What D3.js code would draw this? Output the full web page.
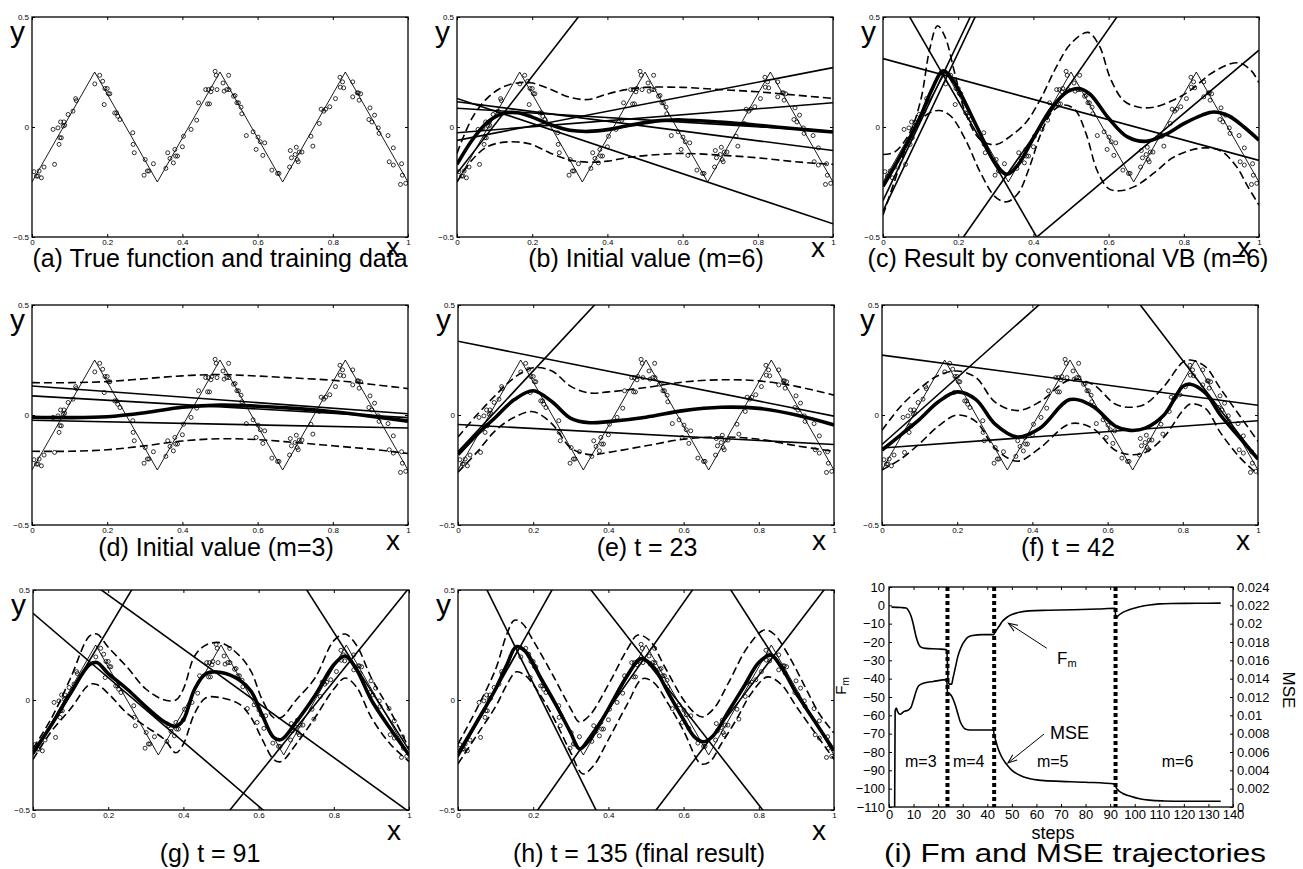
<!DOCTYPE html>
<html><head><meta charset="utf-8">
<script src="https://cdn.jsdelivr.net/npm/d3@7"></script>
<style>body{margin:0;background:#fff}svg{display:block}</style>
</head><body><svg id="c" width="1303" height="869"></svg>
<script>
// ---------- data ----------
const dataX = [0.005,0.012,0.016,0.019,0.025,0.032,0.056,0.060,0.069,0.072,0.074,0.078,0.076,0.083,0.085,0.087,0.096,0.109,0.116,0.118,0.167,0.180,0.188,0.192,0.194,0.200,0.203,0.207,0.220,0.225,0.228,0.234,0.268,0.269,0.272,0.298,0.301,0.307,0.311,0.323,0.356,0.361,0.367,0.376,0.380,0.382,0.387,0.400,0.403,0.423,0.438,0.443,0.462,0.467,0.469,0.472,0.476,0.478,0.487,0.490,0.492,0.508,0.511,0.518,0.523,0.524,0.536,0.540,0.545,0.549,0.556,0.558,0.570,0.588,0.596,0.601,0.607,0.614,0.619,0.638,0.653,0.657,0.685,0.687,0.690,0.700,0.703,0.705,0.708,0.711,0.718,0.742,0.747,0.764,0.769,0.776,0.781,0.792,0.807,0.819,0.820,0.826,0.829,0.853,0.853,0.865,0.868,0.870,0.874,0.896,0.899,0.904,0.911,0.921,0.923,0.947,0.961,0.950,0.961,0.983,0.985,0.980,0.994];
const dataY = [-0.203,-0.223,-0.223,-0.200,-0.231,-0.182,-0.011,-0.170,-0.004,-0.079,-0.049,-0.049,0.023,0.004,0.023,0.008,0.057,0.072,0.129,0.120,0.196,0.235,0.208,0.102,0.175,0.175,0.152,0.151,0.064,0.064,0.049,0.034,-0.026,-0.079,-0.117,-0.219,-0.148,-0.200,-0.200,-0.167,-0.188,-0.117,-0.143,-0.163,-0.102,-0.132,-0.132,-0.090,-0.042,-0.011,0.031,0.110,0.170,0.105,0.170,0.105,0.160,0.175,0.253,0.235,0.170,0.200,0.163,0.170,0.235,0.170,0.140,0.143,0.110,0.110,0.090,0.060,-0.039,-0.022,-0.102,-0.046,-0.067,-0.129,-0.072,-0.196,-0.211,-0.211,-0.182,-0.107,-0.140,-0.125,-0.092,-0.148,-0.158,-0.114,-0.114,-0.042,-0.087,0.016,0.081,0.072,0.081,0.092,0.129,0.226,0.181,0.205,0.178,0.205,0.137,0.155,0.155,0.122,0.151,0.034,0.087,0.023,0.054,-0.004,-0.029,-0.039,-0.095,-0.158,-0.173,-0.167,-0.219,-0.261,-0.256];
const trueX = [0, 0.1667, 0.3333, 0.5, 0.6667, 0.8333, 1];
const trueY = [-0.25, 0.25, -0.25, 0.25, -0.25, 0.25, -0.25];

const xTicks = [0, 0.2, 0.4, 0.6, 0.8, 1];
const xTickLabels = ['0', '0.2', '0.4', '0.6', '0.8', '1'];
const yTicks = [-0.5, 0, 0.5];
const yTickLabels = ['\u22120.5', '0', '0.5'];

// component lines: [y at x=0, y at x=1]
const linesB = [[-0.21,1.99],[0.13,-0.44],[0.115,-0.107],[0.085,-0.02],[-0.026,0.11],[-0.061,0.27]];
const meanB = [[0,-0.17],[0.04,-0.06],[0.08,0.02],[0.12,0.06],[0.16,0.065],[0.2,0.045],[0.25,0.01],[0.3,-0.015],[0.35,-0.02],[0.4,-0.012],[0.45,0.005],[0.5,0.02],[0.55,0.03],[0.6,0.032],[0.7,0.022],[0.8,0.008],[0.9,-0.008],[1,-0.023]];
const upperB = [[0,-0.12],[0.04,0.04],[0.08,0.13],[0.12,0.18],[0.16,0.2],[0.2,0.2],[0.25,0.17],[0.3,0.135],[0.35,0.125],[0.4,0.15],[0.45,0.17],[0.5,0.18],[0.6,0.18],[0.7,0.17],[0.8,0.16],[0.9,0.145],[1,0.13]];
const lowerB = [[0,-0.25],[0.04,-0.15],[0.08,-0.09],[0.12,-0.07],[0.16,-0.068],[0.2,-0.08],[0.25,-0.12],[0.3,-0.15],[0.35,-0.16],[0.4,-0.155],[0.45,-0.14],[0.5,-0.13],[0.6,-0.12],[0.7,-0.128],[0.8,-0.14],[0.9,-0.158],[1,-0.17]];

const linesC = [[-0.335,3.265],[-0.382,3.218],[0.71,-2.25],[0.311,-0.152],[-1.024,1.426],[-1.088,0.349]];
const meanC = [[0,-0.27],[0.05,-0.12],[0.1,0.05],[0.13,0.17],[0.16,0.255],[0.19,0.2],[0.25,0.0],[0.3,-0.17],[0.33,-0.215],[0.36,-0.17],[0.4,-0.05],[0.45,0.09],[0.49,0.16],[0.52,0.175],[0.55,0.15],[0.6,0.04],[0.65,-0.045],[0.7,-0.065],[0.75,-0.035],[0.8,0.015],[0.85,0.055],[0.88,0.068],[0.92,0.05],[0.96,0.0],[1,-0.06]];
const upperC = [[0,-0.125],[0.03,-0.115],[0.07,-0.03],[0.1,0.12],[0.125,0.36],[0.145,0.46],[0.165,0.41],[0.19,0.25],[0.22,0.06],[0.26,-0.06],[0.3,-0.08],[0.34,-0.04],[0.38,0.02],[0.42,0.13],[0.46,0.27],[0.5,0.38],[0.545,0.43],[0.575,0.37],[0.605,0.22],[0.64,0.12],[0.68,0.09],[0.72,0.09],[0.77,0.12],[0.82,0.17],[0.87,0.24],[0.92,0.285],[0.95,0.29],[0.98,0.255],[1,0.2]];
const lowerC = [[0,-0.4],[0.03,-0.25],[0.06,-0.1],[0.09,0.01],[0.12,0.06],[0.15,0.075],[0.18,0.05],[0.22,-0.06],[0.26,-0.21],[0.3,-0.32],[0.33,-0.34],[0.36,-0.3],[0.39,-0.18],[0.42,-0.03],[0.45,0.07],[0.48,0.1],[0.51,0.08],[0.54,-0.03],[0.57,-0.2],[0.6,-0.28],[0.63,-0.29],[0.67,-0.27],[0.72,-0.21],[0.77,-0.14],[0.82,-0.105],[0.86,-0.095],[0.9,-0.11],[0.94,-0.18],[0.97,-0.27],[1,-0.355]];

const linesD = [[0.132,0.006],[0.087,-0.012],[-0.024,-0.059]];
const meanD = [[0,-0.01],[0.1,-0.012],[0.2,-0.008],[0.3,0.01],[0.4,0.035],[0.5,0.045],[0.6,0.04],[0.7,0.03],[0.8,0.015],[0.9,-0.005],[1,-0.028]];
const upperD = [[0,0.147],[0.1,0.147],[0.2,0.152],[0.3,0.165],[0.4,0.178],[0.5,0.184],[0.6,0.177],[0.7,0.168],[0.8,0.158],[0.9,0.14],[1,0.12]];
const lowerD = [[0,-0.165],[0.1,-0.165],[0.2,-0.158],[0.3,-0.14],[0.4,-0.118],[0.5,-0.108],[0.6,-0.112],[0.7,-0.125],[0.8,-0.14],[0.9,-0.155],[1,-0.175]];

const linesE = [[-0.167,1.67],[0.335,-0.005],[-0.043,-0.134]];
const meanE = [[0,-0.18],[0.05,-0.09],[0.1,-0.01],[0.15,0.07],[0.2,0.11],[0.25,0.06],[0.3,-0.015],[0.35,-0.035],[0.4,-0.03],[0.5,-0.01],[0.6,0.02],[0.7,0.035],[0.8,0.03],[0.9,0.0],[1,-0.045]];
const upperE = [[0,-0.1],[0.05,0.0],[0.1,0.09],[0.15,0.17],[0.2,0.215],[0.25,0.2],[0.3,0.13],[0.35,0.1],[0.4,0.105],[0.5,0.125],[0.6,0.15],[0.7,0.16],[0.8,0.155],[0.9,0.13],[1,0.09]];
const lowerE = [[0,-0.26],[0.05,-0.17],[0.1,-0.07],[0.15,-0.01],[0.2,0.015],[0.25,-0.04],[0.3,-0.15],[0.35,-0.18],[0.4,-0.17],[0.5,-0.14],[0.6,-0.11],[0.7,-0.1],[0.8,-0.11],[0.9,-0.14],[1,-0.165]];

const linesF = [[-0.134,1.386],[2.036,-0.2],[0.272,0.044],[-0.15,-0.026]];
const meanF = [[0,-0.16],[0.05,-0.09],[0.1,-0.02],[0.15,0.06],[0.2,0.105],[0.25,0.07],[0.3,-0.04],[0.36,-0.1],[0.42,-0.06],[0.5,0.07],[0.56,0.04],[0.62,-0.05],[0.66,-0.07],[0.7,-0.06],[0.75,0.0],[0.8,0.13],[0.82,0.14],[0.86,0.1],[0.9,0.0],[0.95,-0.1],[1,-0.2]];
const upperF = [[0,-0.07],[0.05,0.04],[0.1,0.12],[0.15,0.18],[0.2,0.2],[0.25,0.17],[0.3,0.06],[0.36,0.02],[0.42,0.06],[0.5,0.16],[0.56,0.14],[0.62,0.05],[0.66,0.035],[0.7,0.05],[0.75,0.13],[0.8,0.24],[0.82,0.25],[0.86,0.22],[0.9,0.12],[0.95,0.0],[1,-0.12]];
const lowerF = [[0,-0.25],[0.05,-0.2],[0.1,-0.13],[0.15,-0.05],[0.2,0.0],[0.25,-0.03],[0.3,-0.15],[0.36,-0.21],[0.42,-0.15],[0.5,-0.04],[0.56,-0.06],[0.62,-0.16],[0.66,-0.18],[0.7,-0.17],[0.75,-0.1],[0.8,0.02],[0.82,0.05],[0.86,0.03],[0.9,-0.08],[0.95,-0.19],[1,-0.27]];

const linesG = [[-0.25,2.61],[0.724,-0.508],[0.394,-1.067],[2.446,-0.227],[-1.61,0.509]];
const meanG = [[0,-0.24],[0.05,-0.11],[0.1,0.03],[0.15,0.16],[0.17,0.17],[0.2,0.12],[0.25,0.05],[0.3,-0.03],[0.35,-0.1],[0.38,-0.12],[0.4,-0.09],[0.43,0.05],[0.46,0.12],[0.5,0.125],[0.55,0.09],[0.58,0.04],[0.61,-0.07],[0.64,-0.17],[0.66,-0.18],[0.7,-0.1],[0.75,0.02],[0.8,0.16],[0.83,0.2],[0.86,0.14],[0.9,0.0],[0.95,-0.13],[1,-0.25]];
const upperG = [[0,-0.22],[0.05,-0.08],[0.1,0.1],[0.15,0.29],[0.17,0.3],[0.2,0.24],[0.25,0.15],[0.3,0.05],[0.35,0.0],[0.38,0.0],[0.4,0.05],[0.43,0.2],[0.46,0.25],[0.5,0.26],[0.55,0.2],[0.58,0.13],[0.61,0.0],[0.64,-0.08],[0.66,-0.08],[0.7,0.0],[0.75,0.1],[0.8,0.27],[0.83,0.3],[0.86,0.25],[0.9,0.1],[0.95,-0.05],[1,-0.22]];
const lowerG = [[0,-0.27],[0.05,-0.14],[0.1,-0.04],[0.15,0.07],[0.17,0.07],[0.2,0.03],[0.25,-0.06],[0.3,-0.12],[0.35,-0.18],[0.38,-0.24],[0.4,-0.2],[0.43,-0.06],[0.46,0.01],[0.5,0.01],[0.55,-0.02],[0.58,-0.08],[0.61,-0.18],[0.64,-0.27],[0.66,-0.28],[0.7,-0.2],[0.75,-0.08],[0.8,0.05],[0.83,0.1],[0.86,0.06],[0.9,-0.08],[0.95,-0.2],[1,-0.28]];

const linesH = [[0.766,-2.684],[-0.26,2.78],[-1.015,1.415],[1.275,-0.915],[-1.68,0.56],[2.43,-0.23]];
const meanH = [[0,-0.245],[0.05,-0.1],[0.1,0.05],[0.13,0.16],[0.155,0.242],[0.18,0.22],[0.22,0.1],[0.26,-0.02],[0.3,-0.15],[0.323,-0.222],[0.35,-0.18],[0.4,-0.04],[0.45,0.11],[0.487,0.188],[0.52,0.15],[0.56,0.03],[0.6,-0.09],[0.63,-0.17],[0.655,-0.19],[0.68,-0.16],[0.72,-0.05],[0.76,0.06],[0.8,0.17],[0.832,0.204],[0.86,0.15],[0.9,0.03],[0.95,-0.1],[1,-0.23]];
const upperH = [[0,-0.2],[0.05,-0.04],[0.1,0.14],[0.13,0.3],[0.15,0.363],[0.17,0.35],[0.2,0.27],[0.25,0.12],[0.3,-0.04],[0.323,-0.1],[0.35,-0.07],[0.4,0.07],[0.45,0.23],[0.478,0.295],[0.51,0.27],[0.55,0.15],[0.6,0.0],[0.63,-0.06],[0.65,-0.077],[0.68,-0.04],[0.72,0.08],[0.77,0.24],[0.814,0.318],[0.84,0.3],[0.88,0.2],[0.92,0.07],[0.96,-0.06],[1,-0.15]];
const lowerH = [[0,-0.29],[0.05,-0.16],[0.1,-0.03],[0.13,0.07],[0.155,0.128],[0.18,0.11],[0.22,0.02],[0.26,-0.1],[0.3,-0.24],[0.332,-0.336],[0.36,-0.3],[0.4,-0.18],[0.45,-0.02],[0.491,0.097],[0.52,0.08],[0.56,-0.02],[0.6,-0.14],[0.646,-0.29],[0.67,-0.28],[0.7,-0.2],[0.74,-0.09],[0.78,0.03],[0.823,0.105],[0.86,0.07],[0.9,-0.03],[0.95,-0.15],[1,-0.27]];

// panel (i)
const stepTicks = [0,10,20,30,40,50,60,70,80,90,100,110,120,130,140];
const stepTickLabels = ['0','10','20','30','40','50','60','70','80','90','100','110','120','130','140'];
const fmTicks = [10,0,-10,-20,-30,-40,-50,-60,-70,-80,-90,-100,-110];
const fmTickLabels = ['10','0','\u221210','\u221220','\u221230','\u221240','\u221250','\u221260','\u221270','\u221280','\u221290','\u2212100','\u2212110'];
const mseTicks = [0,0.002,0.004,0.006,0.008,0.01,0.012,0.014,0.016,0.018,0.02,0.022,0.024];
const mseTickLabels = ['0','0.002','0.004','0.006','0.008','0.01','0.012','0.014','0.016','0.018','0.02','0.022','0.024'];
const fmSeries = [[1,-1],[5,-1.2],[7,-1.5],[8,-3],[9,-6],[10,-11],[11,-17],[12,-21],[13,-22.8],[15,-23.5],[20,-23.8],[23.5,-24.2],[23.8,-32],[24,-40],[24.5,-43],[25.5,-43],[26,-40],[27,-34],[28,-28],[29,-24],[30,-21],[31,-19],[32,-17.5],[34,-16.5],[38,-16],[42.5,-16],[43,-15],[44,-13],[45,-11],[46,-9],[48,-6.5],[50,-5],[53,-3.8],[57,-3],[65,-2.7],[75,-2.4],[85,-2],[92,-1.6],[92.3,-7],[93,-6],[95,-4],[98,-2.3],[102,-0.8],[106,0.2],[110,0.8],[115,1.0],[125,1.1],[135,1.2]];
const mseSeries = [[2.3,0],[2.5,0.0105],[3,0.0108],[3.5,0.0104],[4.5,0.0101],[6,0.0104],[8,0.0106],[9,0.0109],[10,0.0117],[11,0.0126],[12,0.0132],[14,0.0135],[18,0.0137],[23.5,0.0139],[23.8,0.0125],[24.5,0.0124],[25.5,0.0121],[27,0.0111],[28,0.0102],[29,0.0093],[30,0.0088],[31,0.0085],[33,0.0084],[42.5,0.0084],[42.8,0.0079],[43.5,0.0072],[44.5,0.0063],[46,0.0054],[48,0.0046],[50,0.0040],[53,0.0035],[57,0.0031],[62,0.0029],[70,0.0028],[80,0.0027],[92,0.0025],[92.3,0.0022],[93,0.0019],[95,0.0015],[98,0.0012],[102,0.0009],[106,0.00075],[112,0.00066],[120,0.00062],[135,0.00062]];
const stageBreaks = [23.8, 42.8, 92.2];
const stageLabels = ['m=3', 'm=4', 'm=5', 'm=6'];
const stageLabelSteps = [6.5, 26, 60.2, 111];

// ---------- drawing ----------
const FONT = '"Liberation Sans", Arial, Helvetica, sans-serif';
const svg = d3.select('#c');
const W = 376, H = 220;

const panels = [
  {key:'a', l:32,  t:17,  title:'(a) True function and training data', tx:220, ty:267, xly:257},
  {key:'b', l:457, t:17,  title:'(b) Initial value (m=6)', tx:646, ty:267, xly:257, lines:linesB, mean:meanB, upper:upperB, lower:lowerB},
  {key:'c', l:883, t:17,  title:'(c) Result by conventional VB (m=6)', tx:1068, ty:267, xly:257, lines:linesC, mean:meanC, upper:upperC, lower:lowerC},
  {key:'d', l:32,  t:305, title:'(d) Initial value (m=3)', tx:216, ty:556, xly:550, lines:linesD, mean:meanD, upper:upperD, lower:lowerD},
  {key:'e', l:458, t:305, title:'(e) t = 23', tx:647, ty:556, xly:550, lines:linesE, mean:meanE, upper:upperE, lower:lowerE},
  {key:'f', l:882, t:305, title:'(f) t = 42', tx:1068, ty:556, xly:550, lines:linesF, mean:meanF, upper:upperF, lower:lowerF},
  {key:'g', l:33,  t:590, title:'(g) t = 91', tx:210, ty:862, xly:840, lines:linesG, mean:meanG, upper:upperG, lower:lowerG},
  {key:'h', l:458, t:590, title:'(h) t = 135 (final result)', tx:639, ty:862, xly:840, lines:linesH, mean:meanH, upper:upperH, lower:lowerH}
];

const defs = svg.append('defs');

function styleAxis(sel, fs) {
  sel.select('.domain').remove();
  sel.attr('font-family', FONT).attr('font-size', fs);
  sel.selectAll('line').attr('stroke', '#000').attr('stroke-width', 1);
  sel.selectAll('text').attr('fill', '#000');
}

panels.forEach(p => {
  const x = d3.scaleLinear().domain([0, 1]).range([p.l, p.l + W]);
  const y = d3.scaleLinear().domain([-0.5, 0.5]).range([p.t + H, p.t]);
  defs.append('clipPath').attr('id', 'clip' + p.key)
    .append('rect').attr('x', p.l).attr('y', p.t).attr('width', W).attr('height', H);
  const g = svg.append('g');
  const inner = g.append('g').attr('clip-path', `url(#clip${p.key})`);
  const line = d3.line().x(d => x(d[0])).y(d => y(d[1]));
  const smooth = d3.line().x(d => x(d[0])).y(d => y(d[1])).curve(d3.curveCatmullRom.alpha(0.5));

  inner.append('path').datum(d3.zip(trueX, trueY)).attr('d', line)
    .attr('fill', 'none').attr('stroke', '#000').attr('stroke-width', 0.9);
  inner.selectAll('circle.pt').data(d3.zip(dataX, dataY)).join('circle').attr('class', 'pt')
    .attr('cx', d => x(d[0])).attr('cy', d => y(d[1])).attr('r', 2)
    .attr('fill', 'none').attr('stroke', '#000').attr('stroke-width', 0.8);
  (p.lines || []).forEach(l => {
    inner.append('path').datum([[0, l[0]], [1, l[1]]]).attr('d', line)
      .attr('fill', 'none').attr('stroke', '#000').attr('stroke-width', 1.6);
  });
  [p.upper, p.lower].forEach(c => {
    if (!c) return;
    inner.append('path').datum(c).attr('d', smooth).attr('fill', 'none')
      .attr('stroke', '#000').attr('stroke-width', 1.6).attr('stroke-dasharray', '8,4');
  });
  if (p.mean) {
    inner.append('path').datum(p.mean).attr('d', smooth).attr('fill', 'none')
      .attr('stroke', '#000').attr('stroke-width', 3.6).attr('stroke-linejoin', 'round');
  }

  const b = g.append('g').attr('transform', `translate(0,${p.t + H})`)
    .call(d3.axisBottom(x).tickValues(xTicks).tickFormat((d, i) => xTickLabels[i]).tickSizeInner(-3).tickSizeOuter(0).tickPadding(2));
  styleAxis(b, 8);
  const tp = g.append('g').attr('transform', `translate(0,${p.t})`)
    .call(d3.axisTop(x).tickValues(xTicks).tickFormat('').tickSizeInner(-3).tickSizeOuter(0));
  styleAxis(tp, 8);
  const lf = g.append('g').attr('transform', `translate(${p.l},0)`)
    .call(d3.axisLeft(y).tickValues(yTicks).tickFormat((d, i) => yTickLabels[i]).tickSizeInner(-3).tickSizeOuter(0).tickPadding(3));
  styleAxis(lf, 8);
  const rt = g.append('g').attr('transform', `translate(${p.l + W},0)`)
    .call(d3.axisRight(y).tickValues(yTicks).tickFormat('').tickSizeInner(-3).tickSizeOuter(0));
  styleAxis(rt, 8);

  g.append('rect').attr('x', p.l).attr('y', p.t).attr('width', W).attr('height', H)
    .attr('fill', 'none').attr('stroke', '#000').attr('stroke-width', 1.3);

  g.append('text').attr('x', p.l - 22).attr('y', p.t + 25).attr('font-family', FONT)
    .attr('font-size', 30).text('y');
  g.append('text').attr('x', p.l + W - 22).attr('y', p.xly).attr('font-family', FONT)
    .attr('font-size', 28).text('x');
  g.append('text').attr('x', p.tx).attr('y', p.ty).attr('text-anchor', 'middle')
    .attr('font-family', FONT).attr('font-size', 25).text(p.title);
});

// ---------- panel (i) ----------
(function () {
  const L = 889, T = 587, PW = 344, PH = 220;
  const x = d3.scaleLinear().domain([0, 140]).range([L, L + PW]);
  const yF = d3.scaleLinear().domain([-110, 10]).range([T + PH, T]);
  const yM = d3.scaleLinear().domain([0, 0.024]).range([T + PH, T]);
  defs.append('clipPath').attr('id', 'clipi').append('rect')
    .attr('x', L).attr('y', T).attr('width', PW).attr('height', PH);
  defs.append('marker').attr('id', 'arr').attr('viewBox', '-10 -5 12 10')
    .attr('refX', 0).attr('refY', 0).attr('markerWidth', 12).attr('markerHeight', 10)
    .attr('orient', 'auto').attr('markerUnits', 'userSpaceOnUse')
    .append('path').attr('d', 'M-9,-3.5L0,0L-9,3.5').attr('fill', 'none')
    .attr('stroke', '#000').attr('stroke-width', 1);

  const g = svg.append('g');
  const inner = g.append('g').attr('clip-path', 'url(#clipi)');
  inner.append('path').datum(fmSeries)
    .attr('d', d3.line().x(d => x(d[0])).y(d => yF(d[1])).curve(d3.curveMonotoneX))
    .attr('fill', 'none').attr('stroke', '#000').attr('stroke-width', 1.6);
  inner.append('path').datum(mseSeries)
    .attr('d', d3.line().x(d => x(d[0])).y(d => yM(d[1])).curve(d3.curveMonotoneX))
    .attr('fill', 'none').attr('stroke', '#000').attr('stroke-width', 1.6);
  stageBreaks.forEach(s => {
    inner.append('line').attr('x1', x(s)).attr('x2', x(s)).attr('y1', T).attr('y2', T + PH)
      .attr('stroke', '#000').attr('stroke-width', 4).attr('stroke-dasharray', '4,3');
  });

  const b = g.append('g').attr('transform', `translate(0,${T + PH})`)
    .call(d3.axisBottom(x).tickValues(stepTicks).tickFormat((d, i) => stepTickLabels[i]).tickSizeInner(-3).tickSizeOuter(0).tickPadding(3));
  styleAxis(b, 13);
  const tp = g.append('g').attr('transform', `translate(0,${T})`)
    .call(d3.axisTop(x).tickValues(stepTicks).tickFormat('').tickSizeInner(-3).tickSizeOuter(0));
  styleAxis(tp, 13);
  const lf = g.append('g').attr('transform', `translate(${L},0)`)
    .call(d3.axisLeft(yF).tickValues(fmTicks).tickFormat((d, i) => fmTickLabels[i]).tickSizeInner(-3).tickSizeOuter(0).tickPadding(4));
  styleAxis(lf, 13);
  const rt = g.append('g').attr('transform', `translate(${L + PW},0)`)
    .call(d3.axisRight(yM).tickValues(mseTicks).tickFormat((d, i) => mseTickLabels[i]).tickSizeInner(-3).tickSizeOuter(0).tickPadding(4));
  styleAxis(rt, 13);
  g.append('rect').attr('x', L).attr('y', T).attr('width', PW).attr('height', PH)
    .attr('fill', 'none').attr('stroke', '#000').attr('stroke-width', 1.3);

  const fm = g.append('text').attr('x', x(68.4)).attr('y', yF(-32)).attr('font-family', FONT).attr('font-size', 17);
  fm.append('tspan').text('F');
  fm.append('tspan').attr('font-size', 11).attr('dy', 3).text('m');
  g.append('text').attr('x', x(65.5)).attr('y', yF(-72.9)).attr('font-family', FONT).attr('font-size', 18).text('MSE');
  g.append('line').attr('x1', x(64.2)).attr('y1', yF(-23.4)).attr('x2', x(48.6)).attr('y2', yF(-9.8))
    .attr('stroke', '#000').attr('stroke-width', 1).attr('marker-end', 'url(#arr)');
  g.append('line').attr('x1', x(63.1)).attr('y1', yF(-70.2)).attr('x2', x(48.4)).attr('y2', yF(-86))
    .attr('stroke', '#000').attr('stroke-width', 1).attr('marker-end', 'url(#arr)');
  stageLabels.forEach((s, i) => {
    g.append('text').attr('x', x(stageLabelSteps[i])).attr('y', yF(-88.2)).attr('font-family', FONT)
      .attr('font-size', 16).text(s);
  });

  g.append('text').attr('x', 1053).attr('y', 839).attr('text-anchor', 'middle')
    .attr('font-family', FONT).attr('font-size', 18).text('steps');
  const yl = g.append('text').attr('transform', 'translate(846,686) rotate(-90)')
    .attr('text-anchor', 'middle').attr('font-family', FONT).attr('font-size', 15);
  yl.append('tspan').text('F');
  yl.append('tspan').attr('font-size', 10).attr('dy', 3).text('m');
  g.append('text').attr('transform', 'translate(1283,690) rotate(90)')
    .attr('text-anchor', 'middle').attr('font-family', FONT).attr('font-size', 17).text('MSE');
  g.append('text').attr('x', 1075).attr('y', 862).attr('text-anchor', 'middle')
    .attr('font-family', FONT).attr('font-size', 26)
    .attr('textLength', 382).attr('lengthAdjust', 'spacingAndGlyphs')
    .text('(i) Fm and MSE trajectories');
})();
</script></body></html>
